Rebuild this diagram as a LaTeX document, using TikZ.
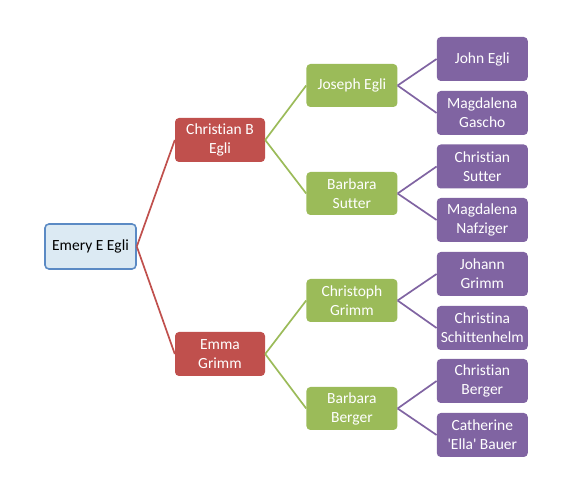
\documentclass[tikz,border=0pt]{standalone}
\usepackage{fontspec}
\setmainfont{Carlito}[Ligatures={TeXOff,NoCommon}]
\usetikzlibrary{positioning}
\definecolor{rootfill}{HTML}{DCEAF3}
\definecolor{rootline}{HTML}{5B8AC4}
\definecolor{famred}{HTML}{C0504D}
\definecolor{famgreen}{HTML}{9BBB59}
\definecolor{fampurple}{HTML}{8064A2}
\begin{document}
\begin{tikzpicture}[
  x=1pt, y=-1pt,
  font=\fontsize{15.5}{19}\selectfont,
  box/.style={rounded corners=4pt, minimum width=91pt, minimum height=44pt,
    inner sep=2pt, align=center, text=white},
  rootbox/.style={box, draw=rootline, fill=rootfill, line width=1.6pt,
    text=black, minimum width=91pt, minimum height=45pt},
  parentbox/.style={box, fill=famred, minimum width=90pt},
  grandbox/.style={box, fill=famgreen, minimum height=43pt},
  greatbox/.style={box, fill=fampurple},
  redlink/.style={draw=famred, line width=1.7pt},
  greenlink/.style={draw=famgreen, line width=1.7pt},
  purplelink/.style={draw=fampurple, line width=1.7pt}]
\useasboundingbox (0,0) rectangle (582,497);
\node[rootbox] (emery) at (90.5,246.5) {Emery E Egli};
\node[parentbox, right=38pt of emery, yshift=106.5pt] (christianb) {Christian B\\Egli};
\node[parentbox, right=38pt of emery, yshift=-107.5pt] (emma) {Emma\\Grimm};
\node[grandbox, right=41pt of christianb, yshift=54.5pt] (joseph) {Joseph Egli};
\node[grandbox, right=41pt of christianb, yshift=-53.5pt] (bsutter) {Barbara\\Sutter};
\node[grandbox, right=41pt of emma, yshift=53.5pt] (christoph) {Christoph\\Grimm};
\node[grandbox, right=41pt of emma, yshift=-54.5pt] (bberger) {Barbara\\Berger};
\node[greatbox, right=39pt of joseph, yshift=26.5pt] (john) {John Egli};
\node[greatbox, right=39pt of joseph, yshift=-27.5pt] (mgascho) {Magdalena\\Gascho};
\node[greatbox, right=39pt of bsutter, yshift=27pt] (csutter) {Christian\\Sutter};
\node[greatbox, right=39pt of bsutter, yshift=-26.5pt] (mnafziger) {Magdalena\\Nafziger};
\node[greatbox, right=39pt of christoph, yshift=26.5pt] (johann) {Johann\\Grimm};
\node[greatbox, right=39pt of christoph, yshift=-27.5pt] (christina) {Christina\\Schittenhelm};
\node[greatbox, right=39pt of bberger, yshift=27.5pt] (cberger) {Christian\\Berger};
\node[greatbox, right=39pt of bberger, yshift=-26.5pt] (catherine) {Catherine\\'Ella' Bauer};
% parents
\draw[redlink] (emery.east) -- (christianb.west);
\draw[redlink] (emery.east) -- (emma.west);
% grandparents
\draw[greenlink] (christianb.east) -- (joseph.west);
\draw[greenlink] (christianb.east) -- (bsutter.west);
\draw[greenlink] (emma.east) -- (christoph.west);
\draw[greenlink] (emma.east) -- (bberger.west);
% great-grandparents
\draw[purplelink] (joseph.east) -- (john.west);
\draw[purplelink] (joseph.east) -- (mgascho.west);
\draw[purplelink] (bsutter.east) -- (csutter.west);
\draw[purplelink] (bsutter.east) -- (mnafziger.west);
\draw[purplelink] (christoph.east) -- (johann.west);
\draw[purplelink] (christoph.east) -- (christina.west);
\draw[purplelink] (bberger.east) -- (cberger.west);
\draw[purplelink] (bberger.east) -- (catherine.west);
\end{tikzpicture}
\end{document}
